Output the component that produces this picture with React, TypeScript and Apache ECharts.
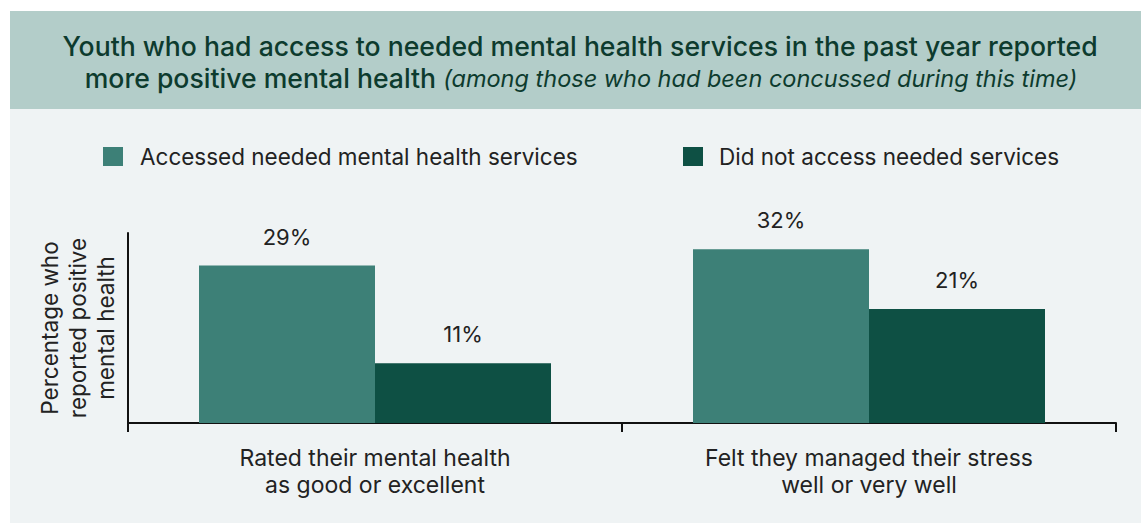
import React, { useEffect, useRef } from "react";
import * as echarts from "echarts";

const categories = ["Rated their mental health\nas good or excellent", "Felt they managed their stress\nwell or very well"];
const seriesNames = ["Accessed needed mental health services", "Did not access needed services"];
const accessedValues = [29, 32];
const notAccessedValues = [11, 21];
const yAxisName = "Percentage who\nreported positive\nmental health";
const titleLine1 = "Youth who had access to needed mental health services in the past year reported";
const titleLine2a = "more positive mental health ";
const titleLine2b = "(among those who had been concussed during this time)";

const FONT = "Inter, Roboto, 'Noto Sans', sans-serif";
const TEAL = "#3d8077";
const DARK = "#0e5044";
const TEXT = "#222222";
const TITLE = "#0d3b2e";

export default function App() {
  const ref = useRef<HTMLDivElement>(null);
  useEffect(() => {
    if (!ref.current) return;
    const chart = echarts.init(ref.current, undefined, { renderer: "svg" });
    chart.setOption({
      animation: false,
      backgroundColor: "#ffffff",
      textStyle: { fontFamily: FONT },
      graphic: [
        { type: "rect", silent: true, z: -10, shape: { x: 10, y: 11, width: 1131, height: 98 }, style: { fill: "#b3cdc9" } },
        { type: "rect", silent: true, z: -10, shape: { x: 10, y: 109, width: 1131, height: 414 }, style: { fill: "#eff3f4" } },
        {
          type: "text", x: 580, y: 46, style: {
            text: titleLine1, fill: TITLE, font: `500 26.6px ${FONT}`, align: "center", verticalAlign: "middle",
          },
        },
        {
          type: "text", x: 581, y: 78, style: {
            text: `{a|${titleLine2a}}{b|${titleLine2b}}`, align: "center", verticalAlign: "middle",
            rich: {
              a: { fontSize: 26.6, fontWeight: 500, fontFamily: FONT, fill: TITLE, color: TITLE },
              b: { fontSize: 23.5, fontFamily: FONT, fontStyle: "italic", fill: TITLE, color: TITLE },
            },
          },
        },
      ],
      legend: [
        {
          data: [seriesNames[0]], left: 103, top: 145, padding: 0, itemWidth: 20, itemHeight: 19, icon: "rect",
          textStyle: { fontSize: 22.5, color: TEXT, fontFamily: FONT, padding: [0, 0, 0, 12] },
        },
        {
          data: [seriesNames[1]], left: 683, top: 145, padding: 0, itemWidth: 20, itemHeight: 19, icon: "rect",
          textStyle: { fontSize: 22.5, color: TEXT, fontFamily: FONT, padding: [0, 0, 0, 11] },
        },
      ],
      grid: { left: 128, right: 25, top: 233, bottom: 100, outerBoundsMode: "none", containLabel: false },
      xAxis: {
        type: "category",
        data: categories,
        axisLine: { lineStyle: { color: "#111", width: 2 } },
        axisTick: { show: true, length: 9, lineStyle: { color: "#111", width: 2 } },
        axisLabel: { fontSize: 23, lineHeight: 27, color: TEXT, margin: 21, fontFamily: FONT },
      },
      yAxis: {
        type: "value", min: 0, max: 35,
        name: yAxisName, nameLocation: "middle", nameRotate: 90, nameGap: 51,
        nameTextStyle: { fontSize: 22.5, lineHeight: 28, color: TEXT, fontFamily: FONT, align: "center", verticalAlign: "middle" },
        axisLine: { show: true, lineStyle: { color: "#111", width: 2 } },
        axisTick: { show: false }, axisLabel: { show: false }, splitLine: { show: false },
      },
      series: [
        {
          name: seriesNames[0], type: "bar", data: accessedValues, barWidth: 176, barGap: "0%",
          itemStyle: { color: TEAL },
          label: { show: true, position: "top", distance: 18, fontSize: 22, color: TEXT, fontFamily: FONT, formatter: "{c}%" },
        },
        {
          name: seriesNames[1], type: "bar", data: notAccessedValues, barWidth: 176, barGap: "0%",
          itemStyle: { color: DARK },
          label: { show: true, position: "top", distance: 18, fontSize: 22, color: TEXT, fontFamily: FONT, formatter: "{c}%" },
        },
      ],
    });
    return () => chart.dispose();
  }, []);
  return (
    <div style={{ position: "fixed", left: 0, top: 0, width: 1141, height: 523 }}>
      <div ref={ref} style={{ width: 1141, height: 523 }} />
    </div>
  );
}
